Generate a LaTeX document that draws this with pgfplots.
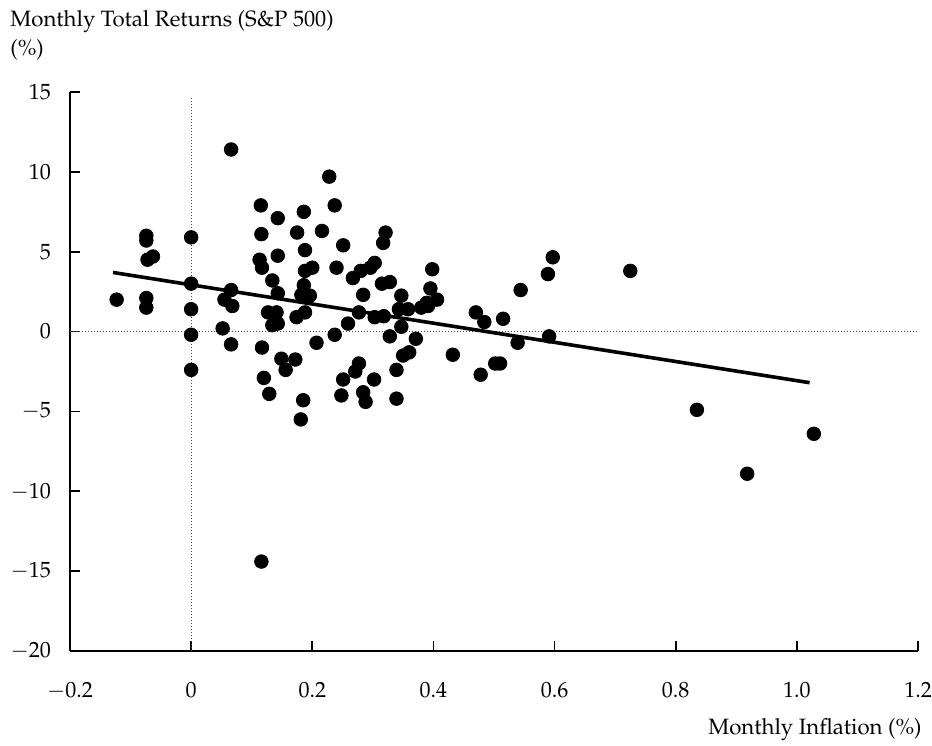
\documentclass[border=0pt]{standalone}
\usepackage[T1]{fontenc}
\usepackage{mathpazo}
\usepackage{pgfplots}
\pgfplotsset{compat=1.18}
\pgfplotstableread{
x y
-0.123 2.0
-0.074 6.0
-0.074 5.7
-0.072 4.5
-0.063 4.7
-0.074 2.1
-0.074 1.5
0.0 5.9
0.0 3.0
0.0 1.4
0.0 -0.2
0.0 -2.4
0.066 11.4
0.066 2.6
0.055 2.0
0.068 1.6
0.052 0.2
0.066 -0.8
0.117 -1.0
0.149 -1.7
0.172 -1.75
0.156 -2.4
0.120 -2.9
0.129 -3.9
0.185 -4.3
0.181 -5.5
0.116 -14.4
0.127 1.2
0.141 1.2
0.134 0.4
0.143 0.5
0.174 0.9
0.188 1.2
0.115 7.9
0.116 6.1
0.143 7.1
0.143 4.75
0.113 4.5
0.117 4.0
0.134 3.2
0.143 2.4
0.186 7.5
0.175 6.2
0.188 5.1
0.188 3.8
0.200 4.0
0.186 2.9
0.182 2.3
0.196 2.25
0.228 9.7
0.237 7.9
0.216 6.3
0.251 5.4
0.240 4.0
0.267 3.35
0.280 3.8
0.303 4.3
0.296 4.0
0.284 2.3
0.277 1.2
0.303 0.9
0.259 0.5
0.237 -0.2
0.207 -0.7
0.321 6.2
0.317 5.55
0.398 3.9
0.315 3.0
0.328 3.1
0.395 2.7
0.406 2.0
0.389 1.8
0.380 1.5
0.347 2.25
0.343 1.4
0.358 1.4
0.318 0.96
0.347 0.3
0.328 -0.3
0.371 -0.45
0.432 -1.45
0.350 -1.5
0.360 -1.3
0.277 -2.0
0.271 -2.5
0.339 -2.4
0.251 -3.0
0.302 -3.0
0.248 -4.0
0.284 -3.8
0.288 -4.4
0.339 -4.2
0.391 1.6
0.597 4.65
0.589 3.6
0.544 2.6
0.470 1.2
0.484 0.6
0.515 0.8
0.591 -0.3
0.539 -0.7
0.478 -2.7
0.502 -2.0
0.510 -2.0
0.725 3.8
0.835 -4.9
1.028 -6.4
0.918 -8.9
}\scatterdata
\begin{document}
\begin{tikzpicture}
\begin{axis}[
  name=ax,
  scale only axis,
  width=424pt, height=279.5pt,
  xmin=-0.2, xmax=1.2, ymin=-20, ymax=15,
  axis lines=left,
  axis line style={-, line width=0.8pt},
  xtick={-0.2,0,0.2,0.4,0.6,0.8,1.0,1.2},
  xticklabels={$-0.2$,0,0.2,0.4,0.6,0.8,1.0,1.2},
  ytick={-20,-15,...,15},
  tick align=inside,
  major tick length=5pt,
  tick style={line width=0.8pt, black},
  xticklabel style={yshift=-12pt},
  yticklabel style={xshift=-6pt},
  font=\fontsize{11}{13}\selectfont,
  clip=false,
]
\addplot[densely dotted, line width=0.5pt, black!70] coordinates {(0,-20) (0,14.6)};
\addplot[densely dotted, line width=0.5pt, black!70] coordinates {(-0.2,0) (1.2,0)};
\addplot[only marks, mark=*, mark size=3.4pt, black] table {\scatterdata};
\addplot[black, line width=1.8pt] coordinates {(-0.129,3.7) (1.021,-3.2)};
\end{axis}
\node[anchor=west, inner sep=0, font=\fontsize{11.1}{13}\selectfont] at ([xshift=-30pt, yshift=35pt]ax.north west) {Monthly Total Returns (S\&P 500)};
\node[anchor=west, inner sep=0, font=\fontsize{11.1}{13}\selectfont] at ([xshift=-30pt, yshift=21pt]ax.north west) {(\%)};
\node[anchor=east, inner sep=0, font=\fontsize{11.1}{13}\selectfont] at ([xshift=2pt, yshift=-39.5pt]ax.south east) {Monthly Inflation (\%)};
\pgfresetboundingbox
\path ([xshift=-35pt,yshift=-47pt]ax.south west) rectangle ([xshift=7pt,yshift=46pt]ax.north east);
\end{tikzpicture}
\end{document}
